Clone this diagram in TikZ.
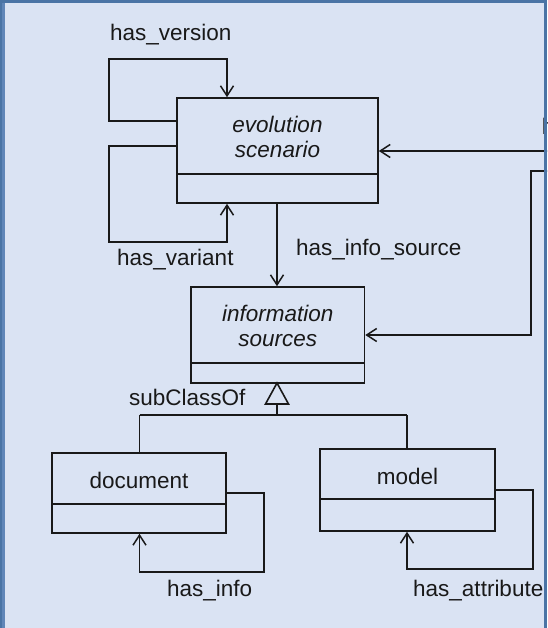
\documentclass[tikz,border=0pt]{standalone}
\usepackage{fontspec}
\setmainfont{Liberation Sans}
\usetikzlibrary{arrows.meta,calc}

\definecolor{panelbg}{RGB}{218,227,243}
\definecolor{frameblue}{RGB}{74,116,165}
\definecolor{frameinner}{RGB}{96,134,184}
\definecolor{ink}{RGB}{25,25,25}

\tikzset{
  umlbox/.style={draw=ink, line width=1.6pt, rectangle, inner sep=0pt},
  lbl/.style={inner sep=0pt, anchor=base west, text=ink,
    font=\fontsize{22.5}{27}\selectfont},
  cls/.style={inner sep=0pt, anchor=base, text=ink,
    font=\fontsize{22.5}{27}\selectfont},
  conn/.style={draw=ink, line width=1.6pt},
  arr/.style={conn, -{Straight Barb[length=10pt,width=13pt,line width=1.5pt]}},
}

\begin{document}
\begin{tikzpicture}[x=1pt,y=1pt]
\useasboundingbox (0,0) rectangle (547,-628);
\begin{scope}
\clip (0,0) rectangle (547,-628);
\fill[panelbg] (0,0) rectangle (547,-628);

% class boxes
\node[umlbox, minimum width=201pt, minimum height=105pt] (evo) at (277.5,-150.5) {};
\node[umlbox, minimum width=173.5pt, minimum height=96pt] (info) at (277.75,-335) {};
\node[umlbox, minimum width=174pt, minimum height=80pt] (doc) at (139,-493) {};
\node[umlbox, minimum width=175pt, minimum height=82pt] (model) at (407.5,-490) {};

% compartment dividers
\draw[conn] (evo.west |- 0,-174) -- (evo.east |- 0,-174);
\draw[conn] (info.west |- 0,-363) -- (info.east |- 0,-363);
\draw[conn] (doc.west |- 0,-504) -- (doc.east |- 0,-504);
\draw[conn] (model.west |- 0,-499) -- (model.east |- 0,-499);

% class names
\node[cls] (evoA) at (277.5,-133) {\itshape evolution};
\node[cls] (evoB) at (277.5,-158) {\itshape scenario};
\node[cls] (infoA) at (277.75,-321) {\itshape information};
\node[cls] (infoB) at (277.75,-346) {\itshape sources};
\node[cls] (docT) at (139,-488) {document};
\node[cls] (modelT) at (407.5,-484) {model};

% has_version self loop
\coordinate (hv1) at (evo.west |- 0,-121);
\coordinate (hv2) at (227,-59);
\draw[arr] (hv1) -- (109,-121) -- (109,-59) -- (hv2) -- (hv2 |- evo.north);
\node[lbl] (hvL) at (110,-41) {has\_version};

% has_variant self loop
\coordinate (hw1) at (evo.west |- 0,-146);
\coordinate (hw2) at (227,-242);
\draw[arr] (hw1) -- (109,-146) -- (109,-242) -- (hw2) -- (hw2 |- evo.south);
\node[lbl] (hwL) at (117,-265) {has\_variant};

% has_info_source
\coordinate (his) at (277,0);
\draw[arr] (his |- evo.south) -- (his |- info.north);
\node[lbl] (hisL) at (296,-255) {has\_info\_source};

% connectors entering from the right edge
\coordinate (r1) at (552,-151);
\draw[arr] (r1) -- (evo.east |- r1);
\coordinate (r2) at (552,-171);
\coordinate (r3) at (531,-171);
\draw[arr] (r2) -- (r3) -- (r3 |- info.east) -- (info.east);
\node[lbl] (rL) at (541.6,-135) {has};

% generalisation
\coordinate (gApex) at (277,-383);
\coordinate (gJoin) at (277,-415);
\coordinate (gL) at (139.5,-415);
\coordinate (gR) at (407,-415);
\draw[conn] (277,-404) -- (gJoin);
\draw[conn] (gL) -- (gR);
\draw[conn] (gL) -- (gL |- doc.north);
\draw[conn] (gR) -- (gR |- model.north);
\draw[conn, fill=panelbg, line join=miter] (gApex) -- (288.5,-404) -- (265.5,-404) -- cycle;
\node[lbl] (subL) at (129,-405) {subClassOf};

% has_info self loop
\coordinate (hi1) at (doc.east |- 0,-493);
\coordinate (hi2) at (139.5,-572);
\draw[arr] (hi1) -- (264,-493) -- (264,-572) -- (hi2) -- (hi2 |- doc.south);
\node[lbl] (hiL) at (167,-596) {has\_info};

% has_attribute self loop
\coordinate (ha1) at (model.east |- 0,-490);
\coordinate (ha2) at (407,-569);
\draw[arr] (ha1) -- (533,-490) -- (533,-569) -- (ha2) -- (ha2 |- model.south);
\node[lbl] (haL) at (413,-596) {has\_attribute};

% panel frame (left, top and right edges)
\fill[frameblue] (0,0) rectangle (4.5,-628);
\fill[frameinner] (2.3,-2) rectangle (4.5,-628);
\fill[frameblue] (0,0) rectangle (547,-3);
\fill[frameblue] (544,0) rectangle (547,-628);
\end{scope}
\end{tikzpicture}
\end{document}
